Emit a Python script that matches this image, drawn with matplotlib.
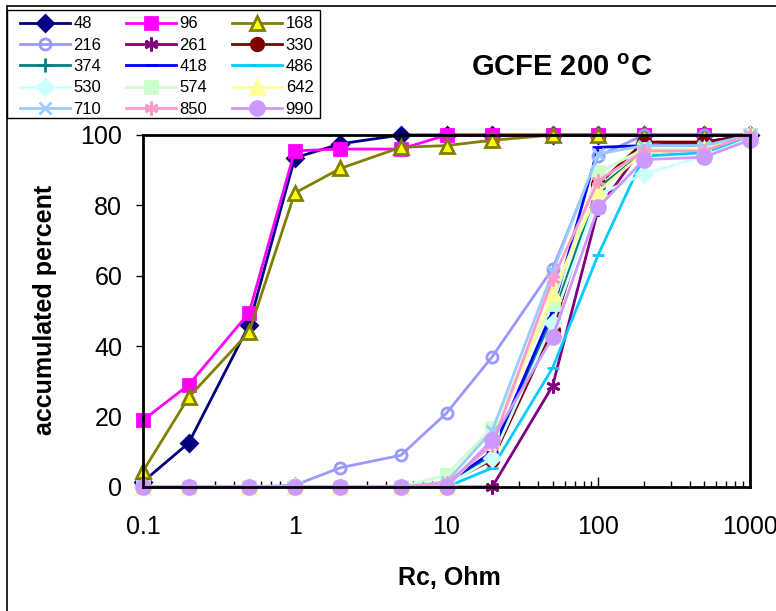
import matplotlib
matplotlib.use("Agg")
import matplotlib.pyplot as plt
from matplotlib.patches import Rectangle
from matplotlib.ticker import LogLocator, NullFormatter, FixedLocator, FixedFormatter

plt.rcParams['font.family'] = ['Liberation Sans', 'DejaVu Sans']
plt.rcParams['mathtext.fontset'] = 'custom'
plt.rcParams['mathtext.rm'] = 'Liberation Sans'
plt.rcParams['mathtext.bf'] = 'Liberation Sans:bold'

# Rc values (Ohm)
rc = [0.1, 0.2, 0.5, 1, 2, 5, 10, 20, 50, 100, 200, 500, 1000]

# accumulated percent per series (series names from the legend)
labels = ["48", "96", "168", "216", "261", "330", "374", "418",
          "486", "530", "574", "642", "710", "850", "990"]
s48 = [1.5, 12.5, 46, 93.5, 97.5, 100, 100, 100, 100, 100, 100, 100, 100]
s96 = [19, 29, 49.5, 95.5, 96, 96, 100, 100, 100, 100, 100, 100, 100]
s168 = [4.5, 25.5, 44, 83.5, 90.5, 96.5, 97, 98.5, 100, 100, 100, 100, 100]
s216 = [0, 0, 0, 0.5, 5.5, 9, 21, 37, 62, 94, 100, 100, 100]
s261 = [0, 0, 0, 0, 0, 0, 0, 0, 28.7, 79, 97, 98, 100]
s330 = [0, 0, 0, 0, 0, 0, 1, 7.7, 44.7, 86, 98, 98, 100]
s374 = [0, 0, 0, 0, 0, 0, 1, 9, 48, 85, 95, 96, 100]
s418 = [0, 0, 0, 0, 0, 0, 1, 10, 50, 96.5, 97, 97, 100]
s486 = [0, 0, 0, 0, 0, 0, 0, 5.4, 33.8, 66, 94, 95, 99.5]
s530 = [0, 0, 0, 0, 0, 0, 0.5, 8.2, 46.6, 83, 89, 94, 99]
s574 = [0, 0, 0, 0, 0, 0, 3.4, 16.8, 52, 89.4, 96, 96, 100]
s642 = [0, 0, 0, 0, 0, 0, 0, 13, 55, 84, 95, 96, 100]
s710 = [0, 0, 0, 0, 0, 0, 1.5, 16, 61, 94.6, 97, 97, 100]
s850 = [0, 0, 0, 0, 0, 0, 1, 12, 59, 87, 95.5, 95.5, 100]
s990 = [0, 0, 0, 0, 0, 0, 0, 13.4, 42.5, 79.5, 93, 93.7, 98.6]
series = [s48, s96, s168, s216, s261, s330, s374, s418,
          s486, s530, s574, s642, s710, s850, s990]

asterisk = (6, 2, 0)
# (line colour, marker, marker face, marker edge, size)
styles = [
    ("#000080", "D", "#000080", "#000080", 8),
    ("#FF00FF", "s", "#FF00FF", "#FF00FF", 9),
    ("#808000", "^", "#FFFF00", "#808000", 10),
    ("#9999FF", "o", "none", "#9999FF", 8),
    ("#800080", asterisk, "#800080", "#800080", 10),
    ("#800000", "o", "#800000", "#800000", 9),
    ("#008080", "+", "#008080", "#008080", 10),
    ("#0000FF", "_", "#0000FF", "#0000FF", 9),
    ("#00CCFF", "_", "#00CCFF", "#00CCFF", 9),
    ("#CCFFFF", "D", "#CCFFFF", "#CCFFFF", 8),
    ("#CCFFCC", "s", "#CCFFCC", "#CCFFCC", 9),
    ("#FFFF99", "^", "#FFFF99", "#FFFF99", 10),
    ("#99CCFF", "x", "#99CCFF", "#99CCFF", 9),
    ("#FF99CC", asterisk, "#FF99CC", "#FF99CC", 10),
    ("#CC99FF", "o", "#CC99FF", "#CC99FF", 10),
]

fig = plt.figure(figsize=(7.76, 6.11), dpi=100)
ax = fig.add_axes([143 / 776, 1 - 487 / 611, 607 / 776, 352 / 611])

handles = []
for lab, ys, (c, m, fc, ec, ms) in zip(labels, series, styles):
    h, = ax.plot(rc, ys, color=c, lw=2, marker=m, markersize=ms,
                 markerfacecolor=fc, markeredgecolor=ec, markeredgewidth=2,
                 clip_on=False, label=lab)
    handles.append(h)

ax.set_xscale("log")
ax.set_xlim(0.1, 1000)
ax.set_ylim(0, 100)
ax.set_yticks([0, 20, 40, 60, 80, 100])
ax.xaxis.set_major_locator(FixedLocator([0.1, 1, 10, 100, 1000]))
ax.xaxis.set_major_formatter(FixedFormatter(["0.1", "1", "10", "100", "1000"]))
ax.xaxis.set_minor_locator(LogLocator(base=10, subs=range(2, 10)))
ax.xaxis.set_minor_formatter(NullFormatter())
ax.tick_params(axis="x", which="major", direction="in", length=7, width=1,
               labelsize=18, pad=20)
ax.tick_params(axis="x", which="minor", direction="in", length=4, width=1)
ax.tick_params(axis="y", direction="out", length=5, width=1, labelsize=18, pad=10)
for sp in ax.spines.values():
    sp.set_linewidth(2)
    sp.set_color("black")

fig.text(449 / 776, 1 - 578 / 611, "Rc, Ohm", ha="center", va="center",
         fontsize=18, fontweight="bold")
fig.text(45 / 776, 1 - 310 / 611, "accumulated percent", ha="center", va="center",
         rotation=90, fontsize=18, fontweight="bold")
fig.text(562 / 776, 1 - 68 / 611, r"GCFE 200 $^{\mathbf{o}}$C", ha="center",
         va="center", fontsize=21, fontweight="bold")

# legend reads row by row: reorder for matplotlib's column-wise fill
order = list(range(0, 15, 3)) + list(range(1, 15, 3)) + list(range(2, 15, 3))
leg = fig.legend(handles=[handles[i] for i in order], ncol=3, loc="upper left",
                 bbox_to_anchor=(20 / 776, 1 - 16.5 / 611), borderaxespad=0,
                 fontsize=12, frameon=False,
                 handlelength=3.0, handletextpad=0.2, columnspacing=1.5,
                 labelspacing=0.38, borderpad=0)
# legend box drawn separately so its padding can differ per side
fig.patches.append(Rectangle((7 / 776, 1 - 118 / 611), 313 / 776, 108 / 611,
                             transform=fig.transFigure, fill=False,
                             edgecolor="black", linewidth=1))

# outer chart-area border
fig.patches.append(Rectangle((7 / 776, -0.1), 1.0, 1.1 - 6 / 611,
                             transform=fig.transFigure, fill=False,
                             edgecolor="black", linewidth=1.2))

fig.savefig("out.png", dpi=100)
